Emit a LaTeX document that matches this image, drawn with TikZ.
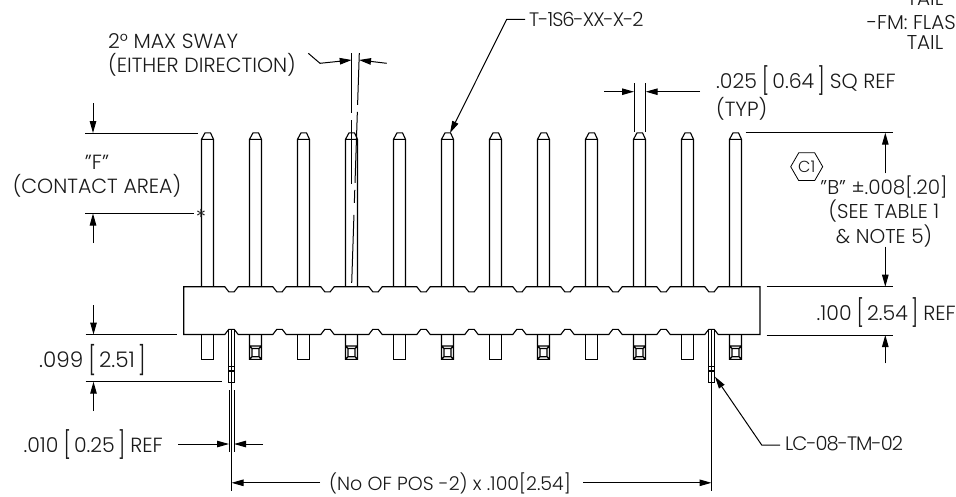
\documentclass[tikz,border=0pt]{standalone}
\usepackage{fontspec}
\setmainfont{Poppins}[UprightFont=* Light]
\usetikzlibrary{arrows.meta, shapes.geometric}

\newcommand{\tallb}[1]{\raisebox{-0.14em}{\scalebox{1}[1.3]{#1}}}
\newcommand{\brk}[1]{\hspace{5pt}\tallb{[}\hspace{3pt}#1\hspace{3pt}\tallb{]}\hspace{5pt}}

\tikzset{
	outline/.style={line width=1.1pt},
	dimline/.style={line width=1pt, >={Triangle[length=12pt,width=6.5pt]}},
	dimtext/.style={font=\fontsize{20.5}{24}\selectfont, inner sep=0pt, text=black!90},
	parttext/.style={dimtext, font=\fontsize{19.5}{24}\selectfont\addfontfeature{LetterSpace=-5}},
}

\begin{document}
\begin{tikzpicture}[x=1pt, y=-1pt]
	\clip (0,0) rectangle (956,496);

	% pins above the body
	\foreach \n in {0,...,11} {
		\draw[outline, xshift=48*\n] (201.5,286.7) -- (201.5,139.3) -- (205,132.8) -- (210.5,132.8) -- (213.5,139.3) -- (213.5,286.7)
			(201.5,139.3) -- (213.5,139.3);
	}
	% pins below the body
	\foreach \n in {0,2,...,10} {
		\draw[outline, xshift=48*\n] (201.5,334.5) -- (201.5,359.3) -- (213.5,359.3) -- (213.5,334.5);
	}
	\foreach \n in {1,3,...,11} {
		\draw[outline, xshift=48*(\n-1)] (249.5,334.5) -- (249.5,359.3) -- (261.5,359.3) -- (261.5,334.5)
			(249.5,346) -- (261.5,346)
			(252,348.5) rectangle (259,356.7)
			(249.5,346) -- (252,348.5) (261.5,346) -- (259,348.5)
			(249.5,359.3) -- (252,356.7) (261.5,359.3) -- (259,356.7);
	}
	% body with its notches
	\draw[outline] (183.7,286.7)
		\foreach \k [evaluate=\k as \c using 231.5+48*\k] in {0,...,10} { -- (\c-6.7,286.7) -- (\c-2.7,291.8) -- (\c+2.7,291.8) -- (\c+6.7,286.7) }
		-- (760,286.7) -- (760,334.5)
		\foreach \k [evaluate=\k as \c using 711.5-48*\k] in {0,...,10} { -- (\c+6.7,334.5) -- (\c+2.7,329.3) -- (\c-2.7,329.3) -- (\c-6.7,334.5) }
		-- (183.7,334.5) -- cycle;
	% long tails
	\foreach \t in {231.5,711.5} {
		\draw[outline, fill=white] (\t-3,329.5) rectangle (\t+3,382.7);
		\draw[outline] (\t-3,366.5) -- (\t+3,366.5) (\t-3,371) -- (\t+3,371);
	}

	\coordinate (fa)    at (85,133);
	\coordinate (fb)    at (198,133);
	\coordinate (fc)    at (85,213.5);
	\coordinate (fd)    at (194,213.5);
	\coordinate (ftop)  at (93,133);
	\coordinate (ftopS) at (93,103);
	\coordinate (fbot)  at (93,213.5);
	\coordinate (fbotS) at (93,243);
	\coordinate (ga)    at (85.5,334.5);
	\coordinate (gb)    at (176.7,334.5);
	\coordinate (gc)    at (85.5,381.7);
	\coordinate (gd)    at (221.7,381.7);
	\coordinate (gtop)  at (93.5,334.5);
	\coordinate (gtopS) at (93.5,305);
	\coordinate (gbot)  at (93.5,381.7);
	\coordinate (gbotS) at (93.5,411);
	\coordinate (ha)    at (229,390);
	\coordinate (hb)    at (229,452);
	\coordinate (hc)    at (234,390);
	\coordinate (hd)    at (234,452);
	\coordinate (hl)    at (229,444);
	\coordinate (hlS)   at (178,444);
	\coordinate (hr)    at (234,444);
	\coordinate (hrS)   at (263,444);
	\coordinate (ja)    at (231.5,329.5);
	\coordinate (jb)    at (231.5,490.5);
	\coordinate (jc)    at (711.5,329.5);
	\coordinate (jd)    at (711.5,490.5);
	\coordinate (jl)    at (231.5,482.8);
	\coordinate (jlS)   at (320,482.8);
	\coordinate (jr)    at (711.5,482.8);
	\coordinate (jrS)   at (583,482.8);
	\coordinate (la)    at (780,445);
	\coordinate (lb)    at (761.7,445);
	\coordinate (lc)    at (715,376.7);
	\coordinate (ta)    at (525,19.3);
	\coordinate (tb)    at (506.7,19.3);
	\coordinate (tc)    at (450,133);
	\coordinate (sa)    at (308.3,53.3);
	\coordinate (sb)    at (320,63.3);
	\coordinate (sc)    at (351.7,60);
	\coordinate (sd)    at (386.7,63.3);
	\coordinate (se)    at (359,60);
	\coordinate (va)    at (351.7,53);
	\coordinate (vb)    at (351.7,190);
	\coordinate (vc)    at (359.3,53);
	\coordinate (vd)    at (351.7,283);
	\coordinate (qa)    at (634,83.3);
	\coordinate (qb)    at (634,131.7);
	\coordinate (qc)    at (645.7,83.3);
	\coordinate (qd)    at (645.7,131.7);
	\coordinate (ql)    at (634,91.7);
	\coordinate (qlS)   at (604.3,91.7);
	\coordinate (qr)    at (645.7,91.7);
	\coordinate (qrS)   at (700,91.7);
	\coordinate (ba)    at (745.7,132.7);
	\coordinate (bb)    at (893.3,132.7);
	\coordinate (bc)    at (766.7,286.7);
	\coordinate (bd)    at (893.3,286.7);
	\coordinate (be)    at (766.7,335);
	\coordinate (bf)    at (893.3,335);
	\coordinate (btop)  at (885.3,132.7);
	\coordinate (btopS) at (885.3,173.3);
	\coordinate (bbot)  at (885.3,286.7);
	\coordinate (bbotS) at (885.3,246.7);
	\coordinate (cbot)  at (885.3,335);
	\coordinate (cbotS) at (885.3,363.3);

	\node[dimtext, align=center]  (ftext)  at (97,176)    {"F"\\(CONTACT AREA)};
	\node[dimtext, font=\fontsize{21.5}{24}\selectfont, anchor=east] (gtext) at (146,360) {.099\brk{2.51}};
	\node[dimtext, anchor=east]   (htext)  at (163,445)   {.010\brk{0.25}REF};
	\node[dimtext, font=\fontsize{19}{24}\selectfont] (jtext) at (450,483) {(No OF POS -2) x .100[2.54]};
	\node[parttext, anchor=west]  (ltext)  at (785,444)   {LC-08-TM-02};
	\node[parttext, anchor=west]  (ttext)  at (529,19)    {T-1S6-XX-X-2};
	\node[dimtext, anchor=west, align=left] (stext) at (108,55) {2° MAX SWAY\\(EITHER DIRECTION)};
	\node[dimtext, anchor=west, align=left] (qtext) at (716,93) {.025\brk{0.64}SQ REF\\(TYP)};
	\node[dimtext, font=\fontsize{20}{24.5}\selectfont, align=center] (btext) at (884,211.5) {"B" ±.008[.20]\\(SEE TABLE 1\\\& NOTE 5)};
	\node[dimtext, anchor=east]   (ctext)  at (956,313)   {.100\brk{2.54}REF};
	\node[dimtext, font=\fontsize{20}{24}\selectfont, anchor=east] (etext) at (956,22.7) {-FM: FLAS};
	\node[dimtext, font=\fontsize{20}{24}\selectfont] (utext) at (925,-1.5) {TAIL};
	\node[dimtext, font=\fontsize{20}{24}\selectfont] (wtext) at (925,42.5) {TAIL};
	\node[dimtext, font=\fontsize{16}{16}\selectfont, draw, line width=0.8pt, regular polygon, regular polygon sides=6, minimum size=32pt] (hexa) at (806.7,166.7) {C1};
	\node[dimtext, font=\fontsize{22}{22}\selectfont] (star) at (201,217) {*};

	\draw[dimline]     (fa) -- (fb) (fc) -- (fd) (ga) -- (gb) (gc) -- (gd);
	\draw[dimline,->]  (ftopS) -- (ftop);
	\draw[dimline,->]  (fbotS) -- (fbot);
	\draw[dimline,->]  (gtopS) -- (gtop);
	\draw[dimline,->]  (gbotS) -- (gbot);
	\draw[dimline]     (ha) -- (hb) (hc) -- (hd) (ja) -- (jb) (jc) -- (jd);
	\draw[dimline,->]  (hlS) -- (hl);
	\draw[dimline,->]  (hrS) -- (hr);
	\draw[dimline,->]  (jlS) -- (jl);
	\draw[dimline,->]  (jrS) -- (jr);
	\draw[dimline,->]  (la) -- (lb) -- (lc);
	\draw[dimline,->]  (ta) -- (tb) -- (tc);
	\draw[dimline,->]  (sa) -- (sb) -- (sc);
	\draw[dimline,->]  (sd) -- (se);
	\draw[dimline, dash pattern=on 60pt off 7pt on 64pt off 7pt] (va) -- (vb);
	\draw[dimline, dash pattern=on 52pt off 7pt on 71pt off 7pt on 13pt off 12pt on 68pt off 7pt] (vc) -- (vd);
	\draw[dimline]     (qa) -- (qb) (qc) -- (qd);
	\draw[dimline,->]  (qlS) -- (ql);
	\draw[dimline,->]  (qrS) -- (qr);
	\draw[dimline]     (ba) -- (bb) (bc) -- (bd) (be) -- (bf);
	\draw[dimline,->]  (btopS) -- (btop);
	\draw[dimline,->]  (bbotS) -- (bbot);
	\draw[dimline,->]  (cbotS) -- (cbot);
\end{tikzpicture}
\end{document}
